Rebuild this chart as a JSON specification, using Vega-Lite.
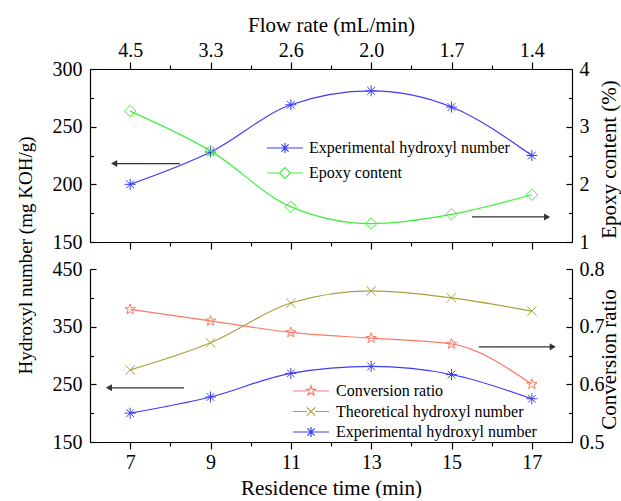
{
  "$schema": "https://vega.github.io/schema/vega-lite/v6.json",
  "padding": {"left": 16, "top": 14, "right": 4, "bottom": 0},
  "bounds": "flush",
  "spacing": 27,
  "datasets": {
    "topH": [
      {"t": 7, "series": "Experimental hydroxyl number", "value": 200},
      {"t": 9, "series": "Experimental hydroxyl number", "value": 228},
      {"t": 11, "series": "Experimental hydroxyl number", "value": 269},
      {"t": 13, "series": "Experimental hydroxyl number", "value": 281},
      {"t": 15, "series": "Experimental hydroxyl number", "value": 267},
      {"t": 17, "series": "Experimental hydroxyl number", "value": 225}
    ],
    "topE": [
      {"t": 7, "series": "Epoxy content", "value": 3.27},
      {"t": 9, "series": "Epoxy content", "value": 2.58},
      {"t": 11, "series": "Epoxy content", "value": 1.61},
      {"t": 13, "series": "Epoxy content", "value": 1.32},
      {"t": 15, "series": "Epoxy content", "value": 1.48},
      {"t": 17, "series": "Epoxy content", "value": 1.82}
    ],
    "botH": [
      {"t": 7, "series": "Theoretical hydroxyl number", "value": 275},
      {"t": 9, "series": "Theoretical hydroxyl number", "value": 322},
      {"t": 11, "series": "Theoretical hydroxyl number", "value": 391},
      {"t": 13, "series": "Theoretical hydroxyl number", "value": 412},
      {"t": 15, "series": "Theoretical hydroxyl number", "value": 400},
      {"t": 17, "series": "Theoretical hydroxyl number", "value": 377},
      {"t": 7, "series": "Experimental hydroxyl number", "value": 200},
      {"t": 9, "series": "Experimental hydroxyl number", "value": 228},
      {"t": 11, "series": "Experimental hydroxyl number", "value": 269},
      {"t": 13, "series": "Experimental hydroxyl number", "value": 281},
      {"t": 15, "series": "Experimental hydroxyl number", "value": 267},
      {"t": 17, "series": "Experimental hydroxyl number", "value": 225}
    ],
    "botC": [
      {"t": 7, "series": "Conversion ratio", "value": 0.73},
      {"t": 9, "series": "Conversion ratio", "value": 0.71},
      {"t": 11, "series": "Conversion ratio", "value": 0.69},
      {"t": 13, "series": "Conversion ratio", "value": 0.68},
      {"t": 15, "series": "Conversion ratio", "value": 0.67},
      {"t": 17, "series": "Conversion ratio", "value": 0.60}
    ],
    "arrTop": [
      {"t": 6.6, "t2": 8.24, "value": 218},
      {"t": 15.51, "t2": 17.38, "value": 171.7}
    ],
    "headTop": [
      {"t": 6.6, "value": 218, "ang": 180},
      {"t": 17.38, "value": 171.7, "ang": 0}
    ],
    "arrBot": [
      {"t": 6.47, "t2": 8.34, "value": 244},
      {"t": 15.68, "t2": 17.52, "value": 315}
    ],
    "headBot": [
      {"t": 6.47, "value": 244, "ang": 180},
      {"t": 17.52, "value": 315, "ang": 0}
    ]
  },
  "vconcat": [
    {
      "width": 482,
      "height": 173,
      "layer": [
        {
          "encoding": {
            "x": {"field": "t", "type": "quantitative", "scale": {"domain": [6, 18], "nice": false, "zero": false},
              "axis": {"orient": "top", "values": [7, 8, 9, 10, 11, 12, 13, 14, 15, 16, 17],
                "labelExpr": "datum.value == 7 ? '4.5' : datum.value == 9 ? '3.3' : datum.value == 11 ? '2.6' : datum.value == 13 ? '2.0' : datum.value == 15 ? '1.7' : datum.value == 17 ? '1.4' : ''",
                "tickSize": {"condition": {"test": "datum.value % 2 == 0", "value": 4}, "value": 7},
                "labelPadding": 2, "title": "Flow rate (mL/min)", "titlePadding": 5}},
            "y": {"field": "value", "type": "quantitative", "scale": {"domain": [150, 300], "nice": false, "zero": false},
              "axis": {"orient": "left", "values": [150, 175, 200, 225, 250, 275, 300],
                "labelExpr": "datum.value % 50 == 0 ? '' + datum.value : ''",
                "tickSize": {"condition": {"test": "datum.value % 50 != 0", "value": -3.5}, "value": -6},
                "labelPadding": 14, "title": "Hydroxyl number (mg KOH/g)", "titleFontSize": 19, "titleX": -65, "titleY": 186, "titleBaseline": "middle", "titleAngle": 270}},
            "color": {"field": "series", "type": "nominal",
              "scale": {"domain": ["Experimental hydroxyl number", "Epoxy content"], "range": ["#3d3df5", "#3ef03e"]},
              "legend": {"orient": "none", "legendX": 187, "legendY": 71, "title": null, "labelFont": "Liberation Serif", "labelFontSize": 16, "labelColor": "black", "labelLimit": 0, "symbolSize": 144, "symbolStrokeWidth": 1.2, "labelOffset": 16, "rowPadding": 9,
                "encode": {"symbols": {"update": {"shape": {"signal": "datum.value == 'Epoxy content' ? 'M-3,0H-0.9M0.9,0H3M0,-0.9L0.9,0L0,0.9L-0.9,0Z' : 'M-3,0H3M0,-0.85V0.85M-0.6,-0.6L0.6,0.6M-0.6,0.6L0.6,-0.6'"}, "fill": {"value": "transparent"}, "strokeWidth": {"value": 1.2}}}}}}
          },
          "layer": [
            {"data": {"name": "topH"}, "mark": {"type": "line", "interpolate": "monotone", "strokeWidth": 1.2}},
            {"data": {"name": "topH"}, "mark": {"type": "point", "size": 121, "strokeWidth": 1, "opacity": 1, "shape": "M0,-1V1M-1,0H1M-0.7,-0.7L0.7,0.7M-0.7,0.7L0.7,-0.7"}},
            {"data": {"name": "arrTop"}, "mark": {"type": "rule", "strokeWidth": 1.3},
              "encoding": {"x2": {"field": "t2"}, "color": {"value": "#333333"}}},
            {"data": {"name": "headTop"}, "mark": {"type": "point", "shape": "triangle-right", "filled": true, "size": 50, "opacity": 1},
              "encoding": {"color": {"value": "#333333"}, "angle": {"field": "ang", "type": "quantitative", "scale": null}}}
          ]
        },
        {
          "data": {"name": "topE"},
          "encoding": {
            "x": {"field": "t", "type": "quantitative", "scale": {"domain": [6, 18], "nice": false, "zero": false},
              "axis": {"orient": "bottom", "values": [7, 8, 9, 10, 11, 12, 13, 14, 15, 16, 17], "labels": false, "title": null,
                "tickSize": {"condition": {"test": "datum.value % 2 == 0", "value": 4}, "value": 7}}},
            "y": {"field": "value", "type": "quantitative", "scale": {"domain": [1, 4], "nice": false, "zero": false},
              "axis": {"orient": "right", "values": [1, 1.5, 2, 2.5, 3, 3.5, 4],
                "labelExpr": "datum.value % 1 == 0 ? '' + datum.value : ''",
                "tickSize": {"condition": {"test": "datum.value % 1 != 0", "value": -3.5}, "value": -6},
                "labelPadding": 13, "title": "Epoxy content (%)", "titleX": 37, "titleY": 90, "titleBaseline": "middle", "titleAngle": 270}},
            "color": {"field": "series", "type": "nominal",
              "scale": {"domain": ["Experimental hydroxyl number", "Epoxy content"], "range": ["#3d3df5", "#3ef03e"]},
              "legend": {"orient": "none", "legendX": 187, "legendY": 71, "title": null, "labelFont": "Liberation Serif", "labelFontSize": 16, "labelColor": "black", "labelLimit": 0, "symbolSize": 144, "symbolStrokeWidth": 1.2, "labelOffset": 16, "rowPadding": 9,
                "encode": {"symbols": {"update": {"shape": {"signal": "datum.value == 'Epoxy content' ? 'M-3,0H-0.9M0.9,0H3M0,-0.9L0.9,0L0,0.9L-0.9,0Z' : 'M-3,0H3M0,-0.85V0.85M-0.6,-0.6L0.6,0.6M-0.6,0.6L0.6,-0.6'"}, "fill": {"value": "transparent"}, "strokeWidth": {"value": 1.2}}}}}}
          },
          "layer": [
            {"mark": {"type": "line", "interpolate": "monotone", "strokeWidth": 1.2}},
            {"mark": {"type": "point", "size": 121, "strokeWidth": 1, "opacity": 1, "shape": "M0,-1.05L1.05,0L0,1.05L-1.05,0Z"}}
          ]
        }
      ],
      "resolve": {"scale": {"y": "independent"}, "axis": {"x": "independent"}}
    },
    {
      "width": 482,
      "height": 173,
      "layer": [
        {
          "encoding": {
            "x": {"field": "t", "type": "quantitative", "scale": {"domain": [6, 18], "nice": false, "zero": false},
              "axis": {"orient": "bottom", "values": [7, 8, 9, 10, 11, 12, 13, 14, 15, 16, 17],
                "labelExpr": "datum.value % 2 == 1 ? '' + datum.value : ''",
                "tickSize": {"condition": {"test": "datum.value % 2 == 0", "value": 4}, "value": 7},
                "labelPadding": 3, "title": "Residence time (min)", "titlePadding": 5}},
            "y": {"field": "value", "type": "quantitative", "scale": {"domain": [150, 450], "nice": false, "zero": false},
              "axis": {"orient": "left", "values": [150, 200, 250, 300, 350, 400, 450],
                "labelExpr": "(datum.value - 150) % 100 == 0 ? '' + datum.value : ''",
                "tickSize": {"condition": {"test": "(datum.value - 150) % 100 != 0", "value": -3.5}, "value": -6},
                "labelPadding": 14, "title": null}},
            "color": {"field": "series", "type": "nominal",
              "scale": {"domain": ["Conversion ratio", "Theoretical hydroxyl number", "Experimental hydroxyl number"], "range": ["#fa7a66", "#a6a23e", "#3d3df5"]},
              "legend": {"orient": "none", "legendX": 213, "legendY": 114, "title": null, "labelFont": "Liberation Serif", "labelFontSize": 16, "labelColor": "black", "labelLimit": 0, "symbolSize": 144, "symbolStrokeWidth": 1.2, "labelOffset": 17, "rowPadding": 4.5,
                "encode": {"symbols": {"update": {"shape": {"signal": "datum.value == 'Conversion ratio' ? 'M-3,0H-0.8M0.8,0H3M0,-0.85L0.2,-0.275L0.808,-0.263L0.323,0.105L0.5,0.688L0,0.34L-0.5,0.688L-0.323,0.105L-0.808,-0.263L-0.2,-0.275Z' : datum.value == 'Theoretical hydroxyl number' ? 'M-3,0H-0.7M0.7,0H3M-0.7,-0.7L0.7,0.7M-0.7,0.7L0.7,-0.7' : 'M-3,0H3M0,-0.85V0.85M-0.6,-0.6L0.6,0.6M-0.6,0.6L0.6,-0.6'"}, "fill": {"value": "transparent"}, "strokeWidth": {"value": 1.2}}}}}}
          },
          "layer": [
            {"data": {"name": "botH"}, "mark": {"type": "line", "interpolate": "monotone", "strokeWidth": 1.2}},
            {"data": {"name": "botH"}, "transform": [{"filter": "datum.series == 'Theoretical hydroxyl number'"}],
              "mark": {"type": "point", "size": 121, "strokeWidth": 1, "opacity": 1, "shape": "M-0.85,-0.85L0.85,0.85M-0.85,0.85L0.85,-0.85"}},
            {"data": {"name": "botH"}, "transform": [{"filter": "datum.series == 'Experimental hydroxyl number'"}],
              "mark": {"type": "point", "size": 121, "strokeWidth": 1, "opacity": 1, "shape": "M0,-1V1M-1,0H1M-0.7,-0.7L0.7,0.7M-0.7,0.7L0.7,-0.7"}},
            {"data": {"name": "arrBot"}, "mark": {"type": "rule", "strokeWidth": 1.3},
              "encoding": {"x2": {"field": "t2"}, "color": {"value": "#333333"}}},
            {"data": {"name": "headBot"}, "mark": {"type": "point", "shape": "triangle-right", "filled": true, "size": 50, "opacity": 1},
              "encoding": {"color": {"value": "#333333"}, "angle": {"field": "ang", "type": "quantitative", "scale": null}}}
          ]
        },
        {
          "data": {"name": "botC"},
          "encoding": {
            "x": {"field": "t", "type": "quantitative", "scale": {"domain": [6, 18], "nice": false, "zero": false},
              "axis": {"orient": "bottom", "values": [7, 8, 9, 10, 11, 12, 13, 14, 15, 16, 17],
                "labelExpr": "datum.value % 2 == 1 ? '' + datum.value : ''",
                "tickSize": {"condition": {"test": "datum.value % 2 == 0", "value": 4}, "value": 7},
                "labelPadding": 3, "title": "Residence time (min)", "titlePadding": 5}},
            "y": {"field": "value", "type": "quantitative", "scale": {"domain": [0.5, 0.8], "nice": false, "zero": false},
              "axis": {"orient": "right", "values": [0.5, 0.55, 0.6, 0.65, 0.7, 0.75, 0.8],
                "labelExpr": "abs(datum.value * 10 - round(datum.value * 10)) < 0.01 ? format(datum.value, '.1f') : ''",
                "tickSize": {"condition": {"test": "abs(datum.value * 10 - round(datum.value * 10)) > 0.01", "value": -3.5}, "value": -6},
                "labelPadding": 13, "title": "Conversion ratio", "titleX": 37, "titleY": 90, "titleBaseline": "middle", "titleAngle": 270}},
            "color": {"field": "series", "type": "nominal",
              "scale": {"domain": ["Conversion ratio", "Theoretical hydroxyl number", "Experimental hydroxyl number"], "range": ["#fa7a66", "#a6a23e", "#3d3df5"]},
              "legend": {"orient": "none", "legendX": 213, "legendY": 114, "title": null, "labelFont": "Liberation Serif", "labelFontSize": 16, "labelColor": "black", "labelLimit": 0, "symbolSize": 144, "symbolStrokeWidth": 1.2, "labelOffset": 17, "rowPadding": 4.5,
                "encode": {"symbols": {"update": {"shape": {"signal": "datum.value == 'Conversion ratio' ? 'M-3,0H-0.8M0.8,0H3M0,-0.85L0.2,-0.275L0.808,-0.263L0.323,0.105L0.5,0.688L0,0.34L-0.5,0.688L-0.323,0.105L-0.808,-0.263L-0.2,-0.275Z' : datum.value == 'Theoretical hydroxyl number' ? 'M-3,0H-0.7M0.7,0H3M-0.7,-0.7L0.7,0.7M-0.7,0.7L0.7,-0.7' : 'M-3,0H3M0,-0.85V0.85M-0.6,-0.6L0.6,0.6M-0.6,0.6L0.6,-0.6'"}, "fill": {"value": "transparent"}, "strokeWidth": {"value": 1.2}}}}}}
          },
          "layer": [
            {"mark": {"type": "line", "interpolate": "monotone", "strokeWidth": 1.2}},
            {"mark": {"type": "point", "size": 121, "strokeWidth": 1, "opacity": 1, "shape": "M0,-1L0.235,-0.324L0.951,-0.309L0.38,0.124L0.588,0.809L0,0.4L-0.588,0.809L-0.38,0.124L-0.951,-0.309L-0.235,-0.324Z"}}
          ]
        }
      ],
      "resolve": {"scale": {"y": "independent"}}
    }
  ],
  "resolve": {"scale": {"color": "independent"}, "legend": {"color": "independent"}},
  "config": {
    "font": "Liberation Serif",
    "view": {"stroke": null},
    "axis": {"grid": false, "labelFont": "Liberation Serif", "labelFontSize": 20, "labelColor": "black",
      "titleFont": "Liberation Serif", "titleFontSize": 21, "titleFontWeight": "normal", "titleColor": "black",
      "domainColor": "black", "tickColor": "black", "domainWidth": 1.2, "tickWidth": 1.2,
      "labelFlush": false, "labelOverlap": false, "labelBound": false}
  }
}
